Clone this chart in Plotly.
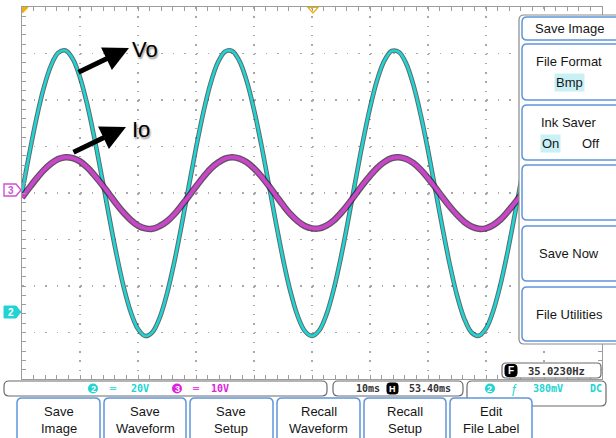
import plotly.graph_objects as go

time_ms = [0, 1.25, 2.5, 3.75, 5, 6.25, 7.5, 8.75, 10, 11.25, 12.5, 13.75, 15, 16.25, 17.5, 18.75,
           20, 21.25, 22.5, 23.75, 25, 26.25, 27.5, 28.75, 30, 31.25, 32.5, 33.75, 35, 36.25, 37.5,
           38.75, 40, 41.25, 42.5, 43.75, 45, 46.25, 47.5, 48.75, 50, 51.25, 52.5, 53.75, 55, 56.25,
           57.5, 58.75, 60, 61.25, 62.5, 63.75, 65, 66.25, 67.5, 68.75, 70, 71.25, 72.5, 73.75, 75,
           76.25, 77.5, 78.75, 80, 81.25, 82.5, 83.75, 85, 86.25, 87.5, 88.75, 90, 91.25, 92.5, 93.75,
           95, 96.25, 97.5, 98.75, 100]

vo_volts = [0.0, 16.7, 32.2, 45.2, 54.8, 60.3, 61.3, 57.7, 49.7, 38.0, 23.4, 7.1, -9.8, -25.9, -40.1,
            -51.2, -58.5, -61.5, -59.8, -53.6, -43.3, -29.8, -14.1, 2.7, 19.3, 34.4, 47.0, 56.0, 60.8,
            61.0, 56.7, 48.1, 35.8, 20.9, 4.4, -12.4, -28.3, -42.1, -52.7, -59.3, -61.5, -59.1, -52.2,
            -41.4, -27.5, -11.5, 5.4, 21.8, 36.6, 48.7, 57.0, 61.1, 60.6, 55.6, 46.3, 33.6, 18.4, 1.7,
            -15.0, -30.7, -44.0, -54.0, -60.0, -61.4, -58.3, -50.7, -39.3, -25.0, -8.8, 8.0, 24.3, 38.7,
            50.3, 58.0, 61.4, 60.1, 54.4, 44.5, 31.3, 15.8, -0.9]

io_volts = [-1.0, 1.1, 3.1, 4.9, 6.3, 7.3, 7.7, 7.5, 6.8, 5.5, 3.8, 1.9, -0.2, -2.3, -4.2, -5.8, -7.0,
            -7.6, -7.7, -7.1, -6.1, -4.6, -2.7, -0.7, 1.4, 3.4, 5.2, 6.5, 7.4, 7.7, 7.4, 6.6, 5.3, 3.6,
            1.6, -0.5, -2.6, -4.5, -6.0, -7.1, -7.6, -7.6, -7.0, -5.9, -4.3, -2.4, -0.3, 1.8, 3.7, 5.4,
            6.7, 7.5, 7.7, 7.3, 6.4, 5.0, 3.2, 1.2, -0.9, -2.9, -4.7, -6.2, -7.2, -7.7, -7.6, -6.9, -5.7,
            -4.0, -2.1, 0.0, 2.1, 4.0, 5.7, 6.9, 7.6, 7.7, 7.2, 6.2, 4.8, 2.9, 0.9]

side_menu = ["Save Image", "File Format", "Ink Saver", "", "Save Now", "File Utilities"]
bottom_buttons = [("Save", "Image"), ("Save", "Waveform"), ("Save", "Setup"),
                  ("Recall", "Waveform"), ("Recall", "Setup"), ("Edit", "File Label")]
ch2_scale = "20V"
ch3_scale = "10V"
timebase = "10ms"
h_pos = "53.40ms"
trig_level = "380mV"
freq_text = "35.0230Hz"

# ---------------- styling ----------------
CYAN = "#22d3d3"
MAG = "#c846c8"
GRID = "#a9a9a9"
BORDER = "#9c9c9c"
BLUE = "#5f95da"
W, H = 616, 438
L, R, T, B = 22, 602, 7, 379


def P(x):
    return (x - L) / (R - L)


def Q(y):
    return (B - y) / (B - T)


def rrect_path(x0, y0, x1, y1, r):
    pts = [("M", [(x0 + r, y0)]), ("L", [(x1 - r, y0)]), ("Q", [(x1, y0), (x1, y0 + r)]),
           ("L", [(x1, y1 - r)]), ("Q", [(x1, y1), (x1 - r, y1)]), ("L", [(x0 + r, y1)]),
           ("Q", [(x0, y1), (x0, y1 - r)]), ("L", [(x0, y0 + r)]), ("Q", [(x0, y0), (x0 + r, y0)])]
    s = ""
    for cmd, ps in pts:
        s += cmd + " ".join(f"{P(a):.5f},{Q(b):.5f}" for a, b in ps) + " "
    return s + "Z"


shapes = []
annots = []


def box(x0, y0, x1, y1, r=4, line=BLUE, width=1.5, fill="white"):
    shapes.append(dict(type="path", xref="paper", yref="paper", path=rrect_path(x0, y0, x1, y1, r),
                       line=dict(color=line, width=width), fillcolor=fill, layer="above"))


def text(x, y, s, size=12, color="#161616", family="Liberation Sans, Arial", bg=None,
         xanchor="center", **kw):
    d = dict(xref="paper", yref="paper", x=P(x), y=Q(y), text=s, showarrow=False,
             font=dict(size=size, color=color, family=family), xanchor=xanchor, yanchor="middle")
    if bg:
        d["bgcolor"] = bg
        d["borderpad"] = 1
    d.update(kw)
    annots.append(d)


fig = go.Figure()

# noise fringe + traces
fig.add_trace(go.Scatter(x=time_ms, y=vo_volts, mode="lines",
                         line=dict(color="rgba(25,45,45,0.7)", width=4.6, shape="spline", smoothing=1),
                         hoverinfo="skip", showlegend=False))
fig.add_trace(go.Scatter(x=time_ms, y=vo_volts, mode="lines",
                         line=dict(color=CYAN, width=2.6, shape="spline", smoothing=1),
                         name="Vo", showlegend=False))
fig.add_trace(go.Scatter(x=time_ms, y=io_volts, yaxis="y2", mode="lines",
                         line=dict(color="rgba(45,20,45,0.75)", width=6.5, shape="spline", smoothing=1),
                         hoverinfo="skip", showlegend=False))
fig.add_trace(go.Scatter(x=time_ms, y=io_volts, yaxis="y2", mode="lines",
                         line=dict(color=MAG, width=4, shape="spline", smoothing=1),
                         name="Io", showlegend=False))

# ---------------- right side menu ----------------
shapes.append(dict(type="path", xref="paper", yref="paper", path=rrect_path(519, 15, 640, 344, 5),
                   line=dict(color="#8a8a8a", width=1.2), fillcolor="white", layer="above"))
menu_boxes = [(17, 40), (44, 100), (105, 160), (165, 220), (226, 281), (287, 341)]
for (y0, y1) in menu_boxes:
    box(522, y0, 630, y1, r=5)
text(569, 29, side_menu[0], size=13)
text(569, 62, side_menu[1], size=13)
text(569, 82, "Bmp", size=13, bg="#c9f1f5")
text(569, 123, side_menu[2], size=13)
text(550, 143, "On", size=13, bg="#c9f1f5")
text(590, 143, "Off", size=13)
text(569, 253, side_menu[4], size=13)
text(569, 314, side_menu[5], size=13)

# frequency counter
box(502, 363, 601, 378, r=4, line="#6a6a6a", width=1.2)
box(505, 364.5, 517, 376.5, r=3, line="black", width=1, fill="black")
text(511, 370.5, "<b>F</b>", size=10, color="white")
text(556, 370.5, "<b>" + freq_text + "</b>", size=10.5, color="#333", family="DejaVu Sans Mono")

# ---------------- status bar ----------------
box(4, 381, 327, 396, r=5, line="#6a6a6a", width=1.2)
shapes.append(dict(type="circle", xref="paper", yref="paper", x0=P(88), x1=P(98), y0=Q(393.5), y1=Q(383.5),
                   fillcolor=CYAN, line=dict(width=0), layer="above"))
text(93, 388.5, "<b>2</b>", size=9, color="white")
text(113, 388.5, "<b>═</b>", size=10, color=CYAN, family="DejaVu Sans Mono")
text(140, 388.5, "<b>" + ch2_scale + "</b>", size=10, color=CYAN, family="DejaVu Sans Mono")
shapes.append(dict(type="circle", xref="paper", yref="paper", x0=P(172), x1=P(182), y0=Q(393.5), y1=Q(383.5),
                   fillcolor="#e020e0", line=dict(width=0), layer="above"))
text(177, 388.5, "<b>3</b>", size=9, color="white")
text(196, 388.5, "<b>═</b>", size=10, color="#e020e0", family="DejaVu Sans Mono")
text(220, 388.5, "<b>" + ch3_scale + "</b>", size=10, color="#e020e0", family="DejaVu Sans Mono")

box(333, 381, 463, 396, r=5, line="#6a6a6a", width=1.2)
text(368, 388.5, "<b>" + timebase + "</b>", size=10, color="#333", family="DejaVu Sans Mono")
box(387, 383, 398, 394, r=2.5, line="black", width=1, fill="black")
text(392.5, 388.5, "<b>H</b>", size=9, color="white")
text(430, 388.5, "<b>" + h_pos + "</b>", size=10, color="#333", family="DejaVu Sans Mono")

box(467, 381, 606, 406, r=5, line="#6a6a6a", width=1.2)
shapes.append(dict(type="circle", xref="paper", yref="paper", x0=P(485), x1=P(495), y0=Q(393.5), y1=Q(383.5),
                   fillcolor=CYAN, line=dict(width=0), layer="above"))
text(490, 388.5, "<b>2</b>", size=9, color="white")
text(514, 389, "ƒ", size=12, color=CYAN)
text(548, 388.5, "<b>" + trig_level + "</b>", size=10, color=CYAN, family="DejaVu Sans Mono")
text(596, 388.5, "<b>DC</b>", size=10, color=CYAN, family="DejaVu Sans Mono")

# ---------------- bottom buttons ----------------
btn_x = [(17, 100), (104, 186), (190, 273), (277, 360), (364, 446), (450, 532)]
for (x0, x1), (l1, l2) in zip(btn_x, bottom_buttons):
    box(x0, 398, x1, 445, r=5)
    cx = (x0 + x1) / 2
    text(cx, 411, l1, size=13)
    text(cx, 428, l2, size=13)

# ---------------- channel / trigger markers ----------------
shapes.append(dict(type="path", xref="paper", yref="paper",
                   path=f"M{P(4)},{Q(184)} L{P(16)},{Q(184)} L{P(21)},{Q(190)} L{P(16)},{Q(196)} L{P(4)},{Q(196)} Z",
                   line=dict(color="#d050d0", width=1.4), fillcolor="white", layer="above"))
text(11, 190, "<b>3</b>", size=10, color="#d050d0")
shapes.append(dict(type="path", xref="paper", yref="paper",
                   path=f"M{P(4)},{Q(306)} L{P(16)},{Q(306)} L{P(21)},{Q(312)} L{P(16)},{Q(318)} L{P(4)},{Q(318)} Z",
                   line=dict(color=CYAN, width=1), fillcolor=CYAN, layer="above"))
text(11, 312, "<b>2</b>", size=10, color="white")
shapes.append(dict(type="path", xref="paper", yref="paper",
                   path=f"M{P(308)},{Q(7.5)} L{P(318)},{Q(7.5)} L{P(313)},{Q(13)} Z",
                   line=dict(color="#f0b000", width=1.2), fillcolor="rgba(0,0,0,0)", layer="above"))
shapes.append(dict(type="path", xref="paper", yref="paper",
                   path=f"M{P(22.5)},{Q(7.5)} L{P(28)},{Q(7.5)} L{P(22.5)},{Q(13)} Z",
                   line=dict(color="#f0b000", width=1), fillcolor="#f0b000", layer="above"))

# ---------------- arrows and labels ----------------
annots.append(dict(xref="paper", yref="paper", x=P(129), y=Q(48), ax=-52, ay=25, text="",
                   showarrow=True, arrowhead=2, arrowsize=1.0, arrowwidth=5, arrowcolor="black", standoff=0))
annots.append(dict(xref="paper", yref="paper", x=P(126), y=Q(127), ax=-54, ay=26, text="",
                   showarrow=True, arrowhead=2, arrowsize=1.0, arrowwidth=5, arrowcolor="black", standoff=0))
text(145, 49, "Vo", font=dict(size=22, color="black", family="Liberation Sans, Arial",
                                shadow="1px 2px 2px rgba(0,0,0,0.45)"))
text(141, 129, "Io", font=dict(size=22, color="black", family="Liberation Sans, Arial",
                                 shadow="1px 2px 2px rgba(0,0,0,0.45)"))

axis_common = dict(showline=True, linecolor=BORDER, linewidth=1, mirror="ticks", ticks="inside",
                   ticklen=4, tickcolor=BORDER, tickwidth=1, showticklabels=False, zeroline=False,
                   showgrid=True, gridcolor=GRID, gridwidth=1.5)

fig.update_layout(
    width=W, height=H, autosize=False,
    margin=dict(l=L, r=W - R, t=T, b=H - B, pad=0),
    paper_bgcolor="white", plot_bgcolor="white",
    showlegend=False,
    xaxis=dict(range=[0, 100], dtick=10, tick0=0, griddash="1.5px,7.8px",
               minor=dict(dtick=2, ticks="inside", ticklen=4, tickcolor=BORDER, showgrid=False),
               fixedrange=True, **axis_common),
    yaxis=dict(range=[-80, 80], dtick=20, tick0=0, griddash="1.5px,10.1px",
               minor=dict(dtick=4, ticks="inside", ticklen=4, tickcolor=BORDER, showgrid=False),
               fixedrange=True, **axis_common),
    yaxis2=dict(range=[-40, 40], overlaying="y", visible=False, fixedrange=True),
    xaxis2=dict(range=[0, 100], overlaying="x", anchor="free", position=0.5, ticks="outside",
                ticklen=2, dtick=2, tick0=0, tickcolor=GRID, showticklabels=False, showgrid=False,
                showline=False, zeroline=False, fixedrange=True),
    yaxis3=dict(range=[-80, 80], overlaying="y", anchor="free", position=0.5, ticks="outside",
                ticklen=2, dtick=4, tick0=0, tickcolor=GRID, showticklabels=False, showgrid=False,
                showline=False, zeroline=False, fixedrange=True),
    shapes=shapes,
    annotations=annots,
)

fig.write_html("out.html", config={"displayModeBar": False, "staticPlot": True},
               post_script="document.body.style.margin='0';document.body.style.overflow='hidden';")
